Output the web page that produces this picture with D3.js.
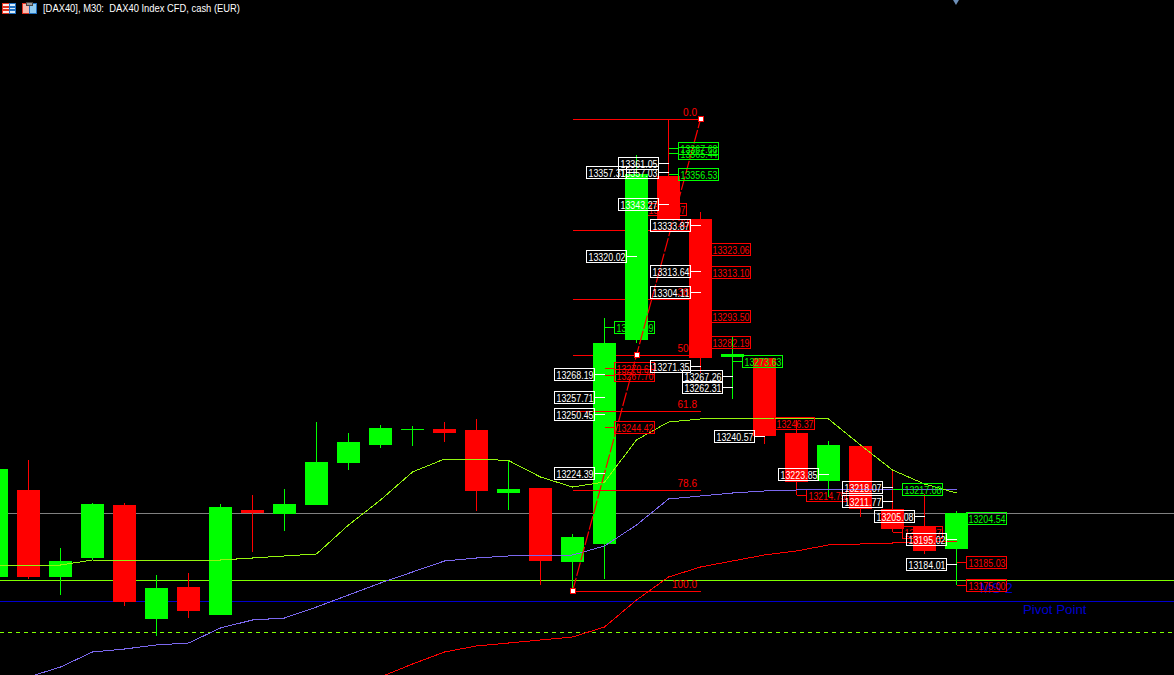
<!DOCTYPE html>
<html><head><meta charset="utf-8">
<style>html,body{margin:0;padding:0;background:#000;overflow:hidden}svg{display:block}
text{font-family:"Liberation Sans",Arial,sans-serif}</style>
<script src="https://cdn.jsdelivr.net/npm/d3@7/dist/d3.min.js"></script>
</head><body><svg id="c" width="1174" height="675"></svg>
<script>
const title = "[DAX40], M30:  DAX40 Index CFD, cash (EUR)";
const opens  = [13178.53,13216.96,13178.53,13186.92,13210.33,13159.98,13174.12,13161.75,13208.13,13206.36,13210.33,13228.88,13236.83,13243.90,13243.90,13243.46,13215.63,13217.84,13185.16,13193.11,13283.21,13355.65,13336.65,13275.92,13275.26,13242.13,13220.93,13236.39,13208.57,13201.06,13190.90];
const highs  = [13226.23,13230.21,13191.34,13211.22,13211.22,13179.42,13180.30,13210.78,13214.75,13217.40,13246.99,13242.13,13245.67,13245.23,13246.99,13248.32,13229.77,13217.84,13197.53,13292.93,13364.92,13380.82,13339.75,13284.54,13275.26,13247.88,13238.60,13236.39,13225.79,13215.19,13207.68];
const lows   = [13178.53,13177.65,13170.58,13186.04,13165.72,13152.47,13160.42,13161.75,13189.57,13198.85,13210.33,13225.79,13235.51,13236.39,13238.16,13207.68,13208.13,13175.00,13172.35,13177.65,13281.89,13336.21,13268.64,13257.15,13237.28,13214.75,13213.87,13205.03,13198.41,13188.69,13175.00];
const closes = [13226.23,13178.53,13185.60,13210.78,13167.49,13173.67,13163.52,13209.45,13206.80,13210.78,13229.33,13238.16,13244.34,13243.90,13242.13,13216.52,13217.40,13185.60,13196.20,13281.89,13356.53,13336.21,13275.26,13276.81,13240.81,13220.49,13236.83,13208.57,13199.73,13190.02,13206.80];
const maFast = [13183.83,13183.83,13183.83,13186.04,13186.04,13186.04,13185.60,13186.04,13186.92,13187.81,13188.69,13201.50,13212.54,13224.91,13230.65,13230.65,13229.99,13222.70,13218.28,13220.49,13239.04,13246.99,13248.32,13248.76,13248.76,13248.32,13248.32,13236.83,13225.79,13219.61,13215.63];
const maMid  = [null,13134.37,13138.78,13145.41,13146.73,13148.50,13149.38,13156.01,13159.54,13160.42,13165.28,13170.58,13175.88,13180.74,13185.60,13186.92,13187.81,13187.81,13188.25,13192.23,13201.50,13212.98,13214.31,13215.63,13216.52,13216.96,13216.96,13216.96,13216.96,13216.96,13216.96];
const maSlow = [null,null,null,null,null,null,null,null,null,null,null,null,13134.37,13140.11,13145.41,13148.06,13149.38,13150.71,13152.03,13156.45,13168.37,13178.53,13182.95,13185.60,13188.25,13190.02,13192.67,13193.11,13193.55,13193.99,13194.43];
const levelPivot = 13206.70, levelGreen = 13177.10, levelBlue = 13167.80, levelDash = 13154.10;
const fibNames  = ["0.0","23.6","38.2","50.0","61.8","78.6","100.0"];
const fibPrices = [13380.70,13331.60,13301.20,13276.40,13251.70,13216.80,13172.20];
const fibOverCandles = ["0.0","61.8","78.6","100.0"];
const fibFrom = 18, fibTo = 22, fibMid = 20;

// [text, price, candle index]
const whiteLabels = [
 ["13361.05",13361.05,21],["13357.03",13357.03,21],["13357.31",13357.31,20],["13343.27",13343.27,21],
 ["13333.87",13333.87,22],["13320.02",13320.02,20],["13313.64",13313.64,22],["13304.11",13304.11,22],
 ["13271.35",13271.35,22],["13268.19",13268.19,19],["13267.26",13267.26,23],["13262.31",13262.31,23],
 ["13257.71",13257.71,19],["13250.45",13250.45,19],["13240.57",13240.57,24],["13224.39",13224.39,19],
 ["13223.85",13223.85,26],["13218.07",13218.07,28],["13211.77",13211.77,28],["13205.08",13205.08,29],
 ["13195.02",13195.02,30],["13184.01",13184.01,30]];
const greenUnder = [["13288.99",13288.95,19]];
const greenOver = [["13367.68",13367.68,21],["13365.44",13365.44,21],["13356.53",13356.53,21],
 ["13273.63",13273.63,23],["13217.08",13217.08,28],["13204.54",13204.54,30]];
const redUnder = [["13341.07",13341.07,20],["13214.75",13214.75,25],["13198.37",13198.37,28]];
const redOver = [["13323.06",13323.06,22],["13313.10",13313.10,22],["13293.50",13293.50,22],["13282.19",13282.19,22],
 ["13270.61",13270.84,19],["13267.70",13267.70,19],["13244.42",13244.42,19],["13246.37",13246.37,24],
 ["13185.03",13185.03,30],["13175.00",13175.00,30]];
const pivotTexts = ["MS 2","Pivot Point"];

const W = 1174, H = 675;
const x = d3.scaleLinear().domain([0, 30]).range([-4, 956]);
const y = d3.scaleLinear().domain([13175.00, 13356.53]).range([585, 174]);
const svg = d3.select("#c");
svg.append("rect").attr("width", W).attr("height", H).attr("fill", "#000");
const candles = d3.range(opens.length).map(i => ({i, o: opens[i], h: highs[i], l: lows[i], c: closes[i]}));
const UP = "#00ff00", DN = "#ff0000";
const crisp = s => s.attr("shape-rendering", "crispEdges");
const snap = v => Math.floor(v) + 0.5;

// horizontal levels
const levels = [[levelBlue,"#0000cd",null],[levelPivot,"#808080",null],[levelGreen,"#7fff00",null],[levelDash,"#7fff00","4,4"]];
crisp(svg.append("g").selectAll("line").data(levels).join("line")
  .attr("x1",0).attr("x2",W).attr("y1",d=>snap(y(d[0]))).attr("y2",d=>snap(y(d[0])))
  .attr("stroke",d=>d[1]).attr("stroke-dasharray",d=>d[2]));

// pivot names
svg.append("text").attr("x",980).attr("y",593).attr("font-size",14).attr("fill","#0000cd").text(pivotTexts[0]);
svg.append("text").attr("x",1023).attr("y",614).attr("font-size",13.3).attr("fill","#0000cd").text(pivotTexts[1]);

function fibLayer(names){
  const data = fibNames.map((n,i)=>[n,fibPrices[i]]).filter(d=>names.includes(d[0]));
  const g = svg.append("g");
  crisp(g.selectAll("line").data(data).join("line")
    .attr("x1",x(fibFrom)+0.5).attr("x2",x(fibTo)+1)
    .attr("y1",d=>snap(y(d[1]))).attr("y2",d=>snap(y(d[1]))).attr("stroke",DN));
  g.selectAll("text").data(data).join("text")
    .attr("x",x(fibTo)-3).attr("y",d=>y(d[1])-3).attr("text-anchor","end")
    .attr("font-size",10).attr("fill",DN).text(d=>d[0]);
}
function labelLayer(rows, color, side){
  const g = svg.append("g");
  const rows2 = rows.map(r=>{
    const cx = x(r[2]) + 0.5, py = snap(y(r[1]));
    const bx = side>0 ? cx+10 : cx-50;
    return {t:r[0],cx,py,bx};
  });
  crisp(g.selectAll("line").data(rows2).join("line")
    .attr("x1",d=>d.cx).attr("x2",d=>side>0?d.bx:d.bx+40).attr("y1",d=>d.py).attr("y2",d=>d.py).attr("stroke",color));
  crisp(g.selectAll("rect").data(rows2).join("rect")
    .attr("x",d=>d.bx).attr("y",d=>d.py-6).attr("width",40).attr("height",12)
    .attr("fill","none").attr("stroke",color));
  g.selectAll("text").data(rows2).join("text")
    .attr("x",d=>d.bx+2).attr("y",d=>d.py+4).attr("font-size",11)
    .attr("textLength",37).attr("lengthAdjust","spacingAndGlyphs").attr("fill",color).text(d=>d.t);
}

// below candles
fibLayer(["23.6","38.2","50.0"]);
labelLayer(redUnder, DN, 1);
labelLayer(greenUnder, UP, 1);

// candles
const cg = svg.append("g");
crisp(cg.selectAll("line").data(candles).join("line")
  .attr("x1",d=>x(d.i)+0.5).attr("x2",d=>x(d.i)+0.5)
  .attr("y1",d=>y(d.h)).attr("y2",d=>y(d.l))
  .attr("stroke",d=>d.c>=d.o?UP:DN));
crisp(cg.selectAll("rect").data(candles).join("rect")
  .attr("x",d=>x(d.i)-11).attr("width",23)
  .attr("y",d=>y(Math.max(d.o,d.c)))
  .attr("height",d=>Math.max(1,y(Math.min(d.o,d.c))-y(Math.max(d.o,d.c))))
  .attr("fill",d=>d.c>=d.o?UP:DN));

// moving averages
function ma(vals,color){
  const line = d3.line().defined(d=>d!==null).x((d,i)=>x(i)+0.5).y(d=>y(d));
  crisp(svg.append("path").datum(vals).attr("d",line).attr("fill","none").attr("stroke",color).attr("stroke-width",1));
}
ma(maSlow,"#ff0000"); ma(maMid,"#7b68ee"); ma(maFast,"#94f50f");

fibLayer(fibOverCandles);

// trend line and handles
const tr = [[fibFrom,fibPrices[6]],[fibTo,fibPrices[0]]];
svg.append("path").datum(tr).attr("d",d3.line().x(d=>x(d[0])+0.5).y(d=>y(d[1])))
  .attr("fill","none").attr("stroke",DN).attr("stroke-dasharray","14,2").attr("stroke-width",1.2);
crisp(svg.append("g").selectAll("rect").data([[fibFrom,fibPrices[6]],[fibMid,fibPrices[3]],[fibTo,fibPrices[0]]]).join("rect")
  .attr("x",d=>x(d[0])-2).attr("y",d=>Math.round(y(d[1]))-2.5).attr("width",5).attr("height",5)
  .attr("fill","#fff").attr("stroke",DN));

labelLayer(redOver, DN, 1);
labelLayer(greenOver, UP, 1);
labelLayer(whiteLabels, "#ffffff", -1);

// header
const hd = svg.append("g");
const ic = [[2,3,7,10,"#ffe8e4","#e0301f"],[9,3,6,10,"#d8ecfa","#1f6fc0"],[22,3,7,10,"#f8b8ac","#e0301f"],[29,3,7,10,"#8fcbf2","#1f6fc0"]];
crisp(hd.selectAll("rect").data(ic).join("rect").attr("x",d=>d[0]+.5).attr("y",d=>d[1]+.5)
  .attr("width",d=>d[2]).attr("height",d=>d[3]).attr("fill",d=>d[4]).attr("stroke",d=>d[5]));
crisp(hd.selectAll("line").data([[3,6.5,9],[3,9.5,9],[10,6.5,15],[10,9.5,15]]).join("line")
  .attr("x1",d=>d[0]).attr("x2",d=>d[2]).attr("y1",d=>d[1]).attr("y2",d=>d[1]).attr("stroke",(d,i)=>i<2?"#e0301f":"#1f6fc0").attr("stroke-width",2));
crisp(hd.append("rect").attr("x",26.5).attr("y",2.5).attr("width",6).attr("height",3).attr("fill","#999").attr("stroke","#444"));
hd.append("text").attr("x",43).attr("y",12).attr("font-size",11).attr("textLength",197)
  .attr("lengthAdjust","spacingAndGlyphs").attr("fill","#fff").attr("xml:space","preserve").text(title);
svg.append("path").attr("d",d3.symbol().type(d3.symbolTriangle).size(22)).attr("fill","#6d8fb8")
  .attr("transform",`translate(${x(30)},1) rotate(180)`);
</script></body></html>
